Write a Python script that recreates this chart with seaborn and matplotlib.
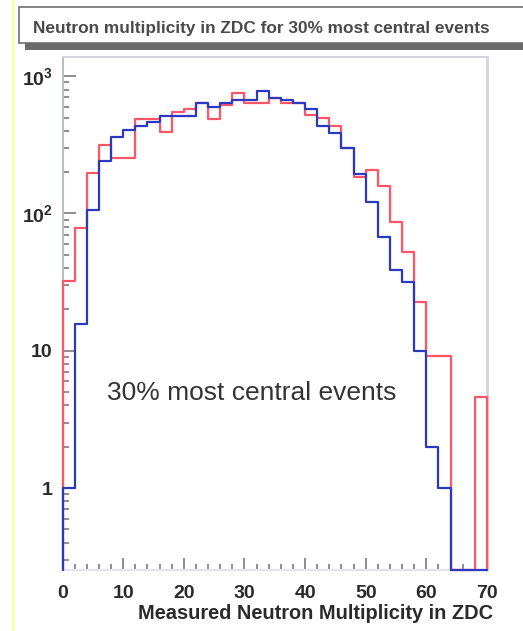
import numpy as np
import pandas as pd
import matplotlib
matplotlib.use("Agg")
import matplotlib.pyplot as plt
from matplotlib.patches import Rectangle
from matplotlib.lines import Line2D
from matplotlib.ticker import LogLocator, MultipleLocator, NullFormatter
import seaborn as sns

# ---- data -------------------------------------------------------------
bin_edges = list(range(0, 72, 2))          # 35 bins of width 2, 0..70

counts_red = [32, 78, 196, 315, 252, 252, 485, 490, 394, 545,
              573, 634, 485, 620, 750, 640, 640, 696, 640, 640,
              521, 495, 433, 300, 184, 207, 158, 87, 52, 22.7,
              9.1, 9.1, 0, 0, 4.6]

counts_blue = [1, 15.6, 106, 243, 359, 407, 433, 466, 512, 512,
               512, 634, 598, 634, 670, 670, 775, 698, 670, 640,
               573, 436, 383, 298, 195, 121, 67, 39, 31.5, 10,
               2, 1, 0, 0, 0]

x_ticks = [0, 10, 20, 30, 40, 50, 60, 70]
y_ticks = [1, 10, 100, 1000]
y_tick_labels = ["1", "10", r"$\mathbf{10^{2}}$", r"$\mathbf{10^{3}}$"]

title_text = "Neutron multiplicity in ZDC for 30% most central events"
x_label = "Measured Neutron Multiplicity in ZDC"
annotation = "30% most central events"

Y_MIN, Y_MAX = 0.253, 1380

# ---- style ------------------------------------------------------------
sns.set_theme(style="white")
plt.rcParams["font.family"] = ["Liberation Sans", "DejaVu Sans"]
plt.rcParams["mathtext.fontset"] = "custom"
plt.rcParams["mathtext.rm"] = "Liberation Sans:bold"
plt.rcParams["mathtext.bf"] = "Liberation Sans:bold"
plt.rcParams["mathtext.it"] = "Liberation Sans:bold"

W, H = 523, 631
fig = plt.figure(figsize=(W / 100, H / 100), dpi=100)
fig.patch.set_facecolor("white")

ax = fig.add_axes([62.5 / W, 1 - 570 / H, (487 - 62.5) / W, (570 - 57) / H])


def outline(counts):
    # ROOT-style outline: rises from the frame floor at the first edge,
    # drops back to it at the last one; empty bins sit on the floor.
    y = np.clip([0.0] + list(counts) + [0.0], Y_MIN, None)
    x = [bin_edges[0]] + bin_edges
    return pd.DataFrame({"x": x, "y": y})


sns.lineplot(data=outline(counts_red), x="x", y="y", estimator=None, sort=False,
             drawstyle="steps-post", color="#ff5566", linewidth=1.6, ax=ax,
             clip_on=False, zorder=3)
sns.lineplot(data=outline(counts_blue), x="x", y="y", estimator=None, sort=False,
             drawstyle="steps-post", color="#2a3ac0", linewidth=1.6, ax=ax,
             clip_on=False, zorder=3.1)

ax.set_yscale("log")
ax.set_xlim(0, 70)
ax.set_ylim(Y_MIN, Y_MAX)

ax.set_xticks(x_ticks)
ax.xaxis.set_minor_locator(MultipleLocator(2))
ax.set_yticks(y_ticks, labels=y_tick_labels)
ax.yaxis.set_minor_locator(LogLocator(base=10, subs=np.arange(2, 10), numticks=20))
ax.yaxis.set_minor_formatter(NullFormatter())

ax.tick_params(axis="both", which="both", direction="in", bottom=True, left=True,
               top=False, right=False, colors="#7a7a80", labelcolor="#2a2a2a",
               width=1.2)
ax.tick_params(axis="both", which="major", length=9, labelsize=14)
ax.tick_params(axis="both", which="minor", length=4.5)
ax.tick_params(axis="x", which="major", pad=11)
ax.tick_params(axis="y", which="major", pad=7)
for lab in ax.get_xticklabels() + ax.get_yticklabels():
    lab.set_fontweight("bold")

for side, col, lw in [("left", "#b8bccb", 1.5), ("top", "#d4d4dc", 1.5),
                      ("right", "#d4d4dc", 2.0), ("bottom", "#e2e4ee", 1.5)]:
    ax.spines[side].set_color(col)
    ax.spines[side].set_linewidth(lw)

ax.set_xlabel(x_label, fontsize=14.4, fontweight="bold", color="#2a2a2a",
              va="top", ha="right")
ax.xaxis.set_label_coords(1.014, -0.066)
ax.set_ylabel("")

ax.text(7.3, 4.9, annotation, fontsize=19, ha="left", va="center", color="#333333")

# ---- title pave with shadow --------------------------------------------
fig.patches.append(Rectangle((25 / W, 1 - 50 / H), 1.0, 36 / H,
                             transform=fig.transFigure, facecolor="#6a6a6a",
                             edgecolor="none", zorder=1))
fig.patches.append(Rectangle((18.5 / W, 1 - 43 / H), 1.0, 36 / H,
                             transform=fig.transFigure, facecolor="white",
                             edgecolor="#707070", linewidth=1.2, zorder=2))
fig.text(33 / W, 1 - 28 / H, title_text, ha="left", va="center", fontsize=12.4,
         fontweight="bold", color="#4a4a4a", zorder=3)

# thin yellow canvas edge on the left
fig.add_artist(Line2D([12.8 / W, 12.8 / W], [0, 1], transform=fig.transFigure,
                      color="#ffff99", linewidth=1.6))

fig.savefig("out.png", dpi=100, facecolor="white")
